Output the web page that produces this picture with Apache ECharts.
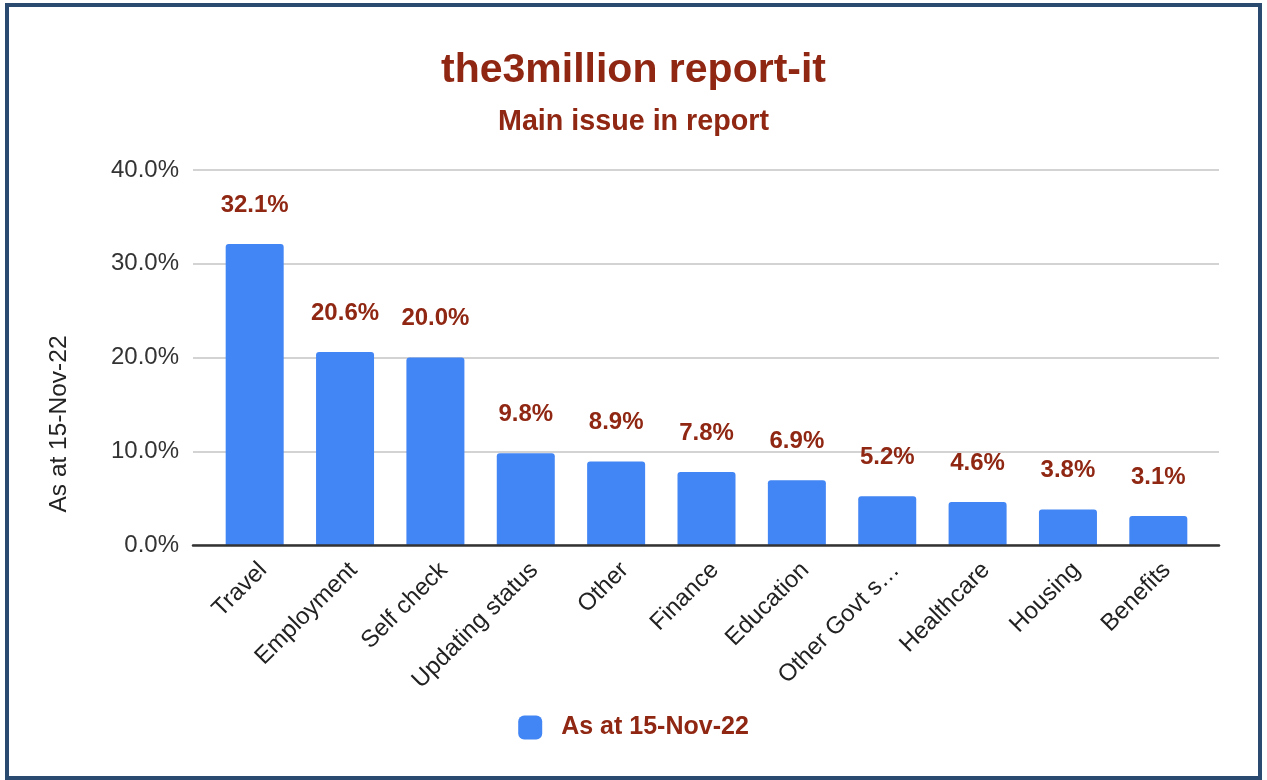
<!DOCTYPE html>
<html>
<head>
<meta charset="utf-8">
<script src="https://cdn.jsdelivr.net/npm/echarts@6/dist/echarts.min.js"></script>
<style>
  html, body { margin: 0; padding: 0; background: #fff; }
  #chart { position: absolute; left: 0; top: 0; width: 1267px; height: 780px; }
  #frame { position: absolute; left: 5px; top: 3px; width: 1257px; height: 777px;
           border: 4.5px solid #2b4a70; box-sizing: border-box; pointer-events: none; }
</style>
</head>
<body>
<div id="chart"></div>
<div id="frame"></div>
<script>
const categories = ['Travel', 'Employment', 'Self check', 'Updating status', 'Other', 'Finance',
  'Education', 'Other Govt s\u2026', 'Healthcare', 'Housing', 'Benefits'];
const values = [32.1, 20.6, 20.0, 9.8, 8.9, 7.8, 6.9, 5.2, 4.6, 3.8, 3.1];
const seriesName = 'As at 15-Nov-22';
const yTicks = [0, 10, 20, 30, 40];

const red = '#8f2713';
const font = 'Liberation Sans, Arial, sans-serif';

const chart = echarts.init(document.getElementById('chart'), null, { renderer: 'canvas' });
chart.setOption({
  backgroundColor: '#fff',
  animation: false,
  title: [
    { text: 'the3million report-it', left: 'center', top: 45,
      textStyle: { fontFamily: font, fontSize: 41, fontWeight: 'bold', color: red } },
    { text: 'Main issue in report', left: 'center', top: 103,
      textStyle: { fontFamily: font, fontSize: 28.7, fontWeight: 'bold', color: red } }
  ],
  legend: {
    data: [seriesName], left: 'center', top: 715, icon: 'roundRect',
    itemWidth: 24, itemHeight: 24, padding: 0,
    textStyle: { fontFamily: font, fontSize: 25, fontWeight: 'bold', color: red, padding: [0, 0, 0, 14] }
  },
  grid: [
    { left: 193, right: 48, top: 170, bottom: 235 },
    { left: 209.5, right: 63.5, top: 170, bottom: 235 }
  ],
  xAxis: [
    { type: 'value', gridIndex: 0, min: 0, max: 1, z: 5,
      axisLine: { show: true, onZero: false, lineStyle: { color: '#333', width: 2.5 } },
      axisTick: { show: false }, axisLabel: { show: false }, splitLine: { show: false } },
    { type: 'category', gridIndex: 1, data: categories,
      axisLine: { show: false }, axisTick: { show: false },
      axisLabel: { interval: 0, rotate: 45, margin: 13, verticalAlign: 'top',
        fontFamily: font, fontSize: 24, color: '#222' } }
  ],
  yAxis: [
    { type: 'value', gridIndex: 0, min: yTicks[0], max: yTicks[yTicks.length - 1], interval: 10,
      axisLine: { show: false }, axisTick: { show: false },
      axisLabel: { margin: 14, fontFamily: font, fontSize: 24, color: '#333',
        formatter: v => v.toFixed(1) + '%' },
      splitLine: { lineStyle: { color: '#d3d3d3', width: 2 } } },
    { type: 'value', gridIndex: 1, min: 0, max: 40, show: false, splitLine: { show: false } }
  ],
  graphic: [
    { type: 'text', rotation: Math.PI / 2, x: 59, y: 424,
      style: { text: seriesName, fontFamily: font, fontSize: 24.5, fill: '#222',
        textAlign: 'center', textVerticalAlign: 'middle' } }
  ],
  series: [{
    name: seriesName, type: 'bar', xAxisIndex: 1, yAxisIndex: 1, data: values,
    barWidth: 58, z: 1,
    itemStyle: { color: '#4285f4', borderRadius: [3, 3, 0, 0] },
    label: { show: true, position: 'top', distance: 27, fontFamily: font, fontSize: 24,
      fontWeight: 'bold', color: red, formatter: p => p.value.toFixed(1) + '%' }
  }]
});
</script>
</body>
</html>
